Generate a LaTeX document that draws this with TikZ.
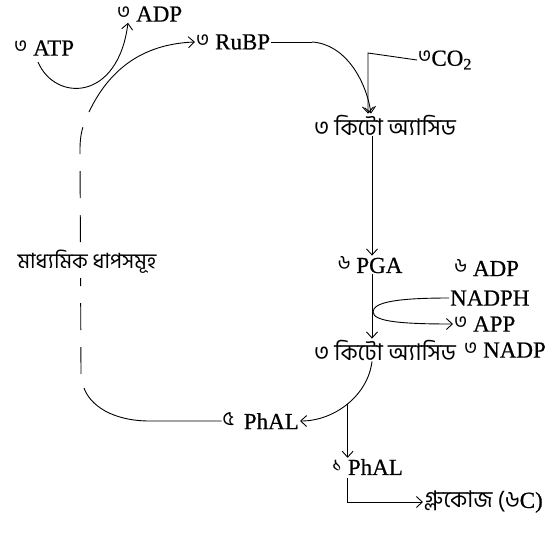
\documentclass[tikz,border=0pt]{standalone}
\usepackage{fontspec}
\setmainfont[FakeBold=0.6,AutoFakeBold=0.6]{Liberation Serif}
\newfontfamily\bn[Script=Bengali]{Hind Siliguri}
\usetikzlibrary{arrows.meta}
% small raised Bengali count before a compound name
\newcommand\cnt[1]{\raisebox{0.3ex}{\bn\fontsize{20}{20}\selectfont #1}}
\begin{document}
\begin{tikzpicture}[x=1pt,y=-1pt,
  lbl/.style={inner sep=1pt, font=\fontsize{23}{25}\selectfont},
  blbl/.style={inner sep=1pt, font=\bn\fontsize{23}{25}\selectfont},
  link/.style={line width=0.9pt},
  flow/.style={link, -{Straight Barb[length=6pt,width=11pt]}},
  gapped/.style={link, dash pattern=on 27pt off 17pt}]
\useasboundingbox (0,0) rectangle (553,544);

% compounds of the cycle
\node[lbl, anchor=west] (adp)   at (116,14)  {\cnt{৩} ADP};
\node[lbl, anchor=west] (atp)   at (13,48)   {\cnt{৩} ATP};
\node[lbl, anchor=west] (rubp)  at (195,42)  {\cnt{৩} RuBP};
\node[lbl, anchor=west] (co2)   at (417,60)  {\cnt{৩}CO\textsubscript{2}};
\node[blbl]             (keto1) at (385,125) {৩ কিটো অ্যাসিড};
\node[lbl]              (pga)   at (370,265) {\cnt{৬} PGA};
\node[lbl, anchor=west] (adp6)  at (453,268) {\cnt{৬} ADP};
\node[lbl, anchor=west] (nadph) at (449,298) {NADPH};
\node[lbl, anchor=west] (app)   at (453,324) {\cnt{৩} APP};
\node[blbl]             (keto2) at (385,350) {৩ কিটো অ্যাসিড};
\node[lbl, anchor=west] (nadp)  at (463,350) {\cnt{৩} NADP};
\node[lbl, anchor=east] (phal5) at (300,421) {\cnt{৫}\, PhAL};
\node[lbl, anchor=west] (phal1) at (331,467) {\cnt{১} PhAL};
\node[lbl, anchor=west] (glu)   at (423,502) {{\bn গ্লুকোজ (৬}C)};

% regeneration side of the loop
\draw[link] (phal5.west) -- (150,421) .. controls (112,421) and (90,405) .. (84,388);
\draw[gapped] (81,374) -- (80,150) .. controls (80,140) and (81,132) .. (84,124);
\node[blbl, fill=white, inner ysep=4pt, font=\bn\fontsize{21}{23}\selectfont]
  (mid) at (87,262) {মাধ্যমিক ধাপসমূহ};
\draw[flow] (89,112) .. controls (108,72) and (140,44) .. (rubp.west);

% ATP used, ADP released
\draw[flow] (38,62) .. controls (55,102) and (118,102) .. ([xshift=12pt]adp.south west);

% carboxylation
\draw[link] (rubp.east) -- (312,42);
\draw[flow] (312,42) .. controls (345,44) and (366,80) .. (keto1.north -| 371,0);
\draw[flow] (co2.west) -- (368,53) -- (keto1.north -| 368,0);

% reduction
\draw[flow] (keto1.south -| 372,0) -- (pga.north -| 372,0);
\draw[flow] (pga.south -| 372,0) -- (keto2.north -| 372,0);
\draw[flow] (nadph.west) .. controls (398,298) and (373,302) .. (373,312)
  .. controls (373,322) and (405,324) .. (app.west);

% output
\draw[flow] (keto2.south -| 372,0) .. controls (368,395) and (335,421) ..
  coordinate[pos=0.5] (j) (phal5.east);
\draw[flow] (j) -- (j |- phal1.north);
\draw[flow] ([yshift=-2pt]j |- phal1.south) |- (glu.west);
\end{tikzpicture}
\end{document}
